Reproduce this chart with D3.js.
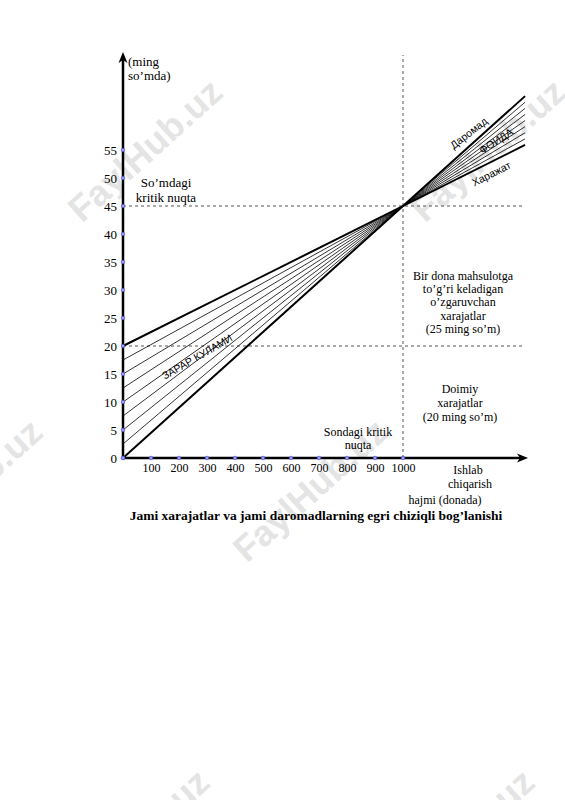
<!DOCTYPE html>
<html><head><meta charset="utf-8">
<script src="https://cdn.jsdelivr.net/npm/d3@7"></script>
<style>body{margin:0;background:#fff}svg{display:block}</style>
</head><body>
<svg id="c" width="565" height="800"></svg>
<script>
// ---- data ----
const xTicks = [100,200,300,400,500,600,700,800,900,1000];
const yTicks = [0,5,10,15,20,25,30,35,40,45,50,55];
const intercepts = [0,2.5,5,7.5,10,12.5,15,17.5,20];   // lines from revenue (0) to total cost (20)
const fixedCost = 20;            // ming so'm
const breakEvenQty = 1000;       // donada
const breakEvenSum = 45;         // ming so'm
const qtyMax = 1436;             // end of drawn lines
const yAxisUnit = ["(ming", "so’mda)"];
const xAxisUnit = ["Ishlab", "chiqarish", "hajmi (donada)"];
const title = "Jami xarajatlar va jami daromadlarning egri chiziqli bog’lanishi";

const svg = d3.select("#c");
const x = d3.scaleLinear().domain([0,1000]).range([123,403]);
const y = d3.scaleLinear().domain([0,55]).range([458,150]);
const serif = "'Liberation Serif','Times New Roman',serif";
const sans = "'Liberation Sans',Arial,sans-serif";

// ---- watermarks ----
const wm = [[145,150],[488,150],[310,490],[-35,490],[132,840],[457,840]];
const wmG = svg.append("g");
wm.forEach(([cx,cy])=>{
  wmG.append("text").attr("transform",`translate(${cx},${cy}) rotate(-42)`)
    .attr("text-anchor","middle").attr("dy","0.35em")
    .attr("font-family",sans).attr("font-weight","bold").attr("font-size",36)
    .attr("fill","#e4e4e4").text("FaylHub.uz");
});

// ---- dashed guide lines ----
const dash = "3,3";
svg.append("line").attr("x1",x(0)).attr("x2",x(qtyMax)).attr("y1",y(breakEvenSum)).attr("y2",y(breakEvenSum))
  .attr("stroke","#555").attr("stroke-width",1).attr("stroke-dasharray",dash);
svg.append("line").attr("x1",x(0)).attr("x2",x(qtyMax)).attr("y1",y(fixedCost)).attr("y2",y(fixedCost))
  .attr("stroke","#555").attr("stroke-width",1).attr("stroke-dasharray",dash);
svg.append("line").attr("x1",x(breakEvenQty)).attr("x2",x(breakEvenQty)).attr("y1",y(0)).attr("y2",55)
  .attr("stroke","#555").attr("stroke-width",1).attr("stroke-dasharray",dash);

// ---- fan of lines ----
intercepts.forEach(k=>{
  const slope = (breakEvenSum-k)/breakEvenQty;
  const thick = (k===0 || k===fixedCost);
  svg.append("line")
    .attr("x1",x(0)).attr("y1",y(k))
    .attr("x2",x(qtyMax)).attr("y2",y(k+slope*qtyMax))
    .attr("stroke","#000").attr("stroke-width",thick?2:0.8);
});

// ---- axes ----
svg.append("line").attr("x1",x(0)).attr("x2",x(0)).attr("y1",y(0)+1).attr("y2",60)
  .attr("stroke","#000").attr("stroke-width",2.5);
svg.append("path").attr("d",`M${x(0)},52 L${x(0)-4.5},63 L${x(0)},60 L${x(0)+4.5},63 Z`).attr("fill","#000");
svg.append("line").attr("x1",x(0)-1).attr("x2",520).attr("y1",y(0)).attr("y2",y(0))
  .attr("stroke","#000").attr("stroke-width",2.5);
svg.append("path").attr("d",`M528,${y(0)} L517,${y(0)-4.5} L520,${y(0)} L517,${y(0)+4.5} Z`).attr("fill","#000");

const ya = svg.append("g").attr("transform",`translate(${x(0)-5},0)`)
  .call(d3.axisLeft(y).tickValues(yTicks).tickFormat(d3.format("d")).tickSize(0).tickPadding(1));
ya.select(".domain").remove();
ya.selectAll("text").attr("font-family",serif).attr("font-size",13).attr("fill","#000");

const xa = svg.append("g").attr("transform",`translate(0,${y(0)+3})`)
  .call(d3.axisBottom(x).tickValues(xTicks).tickFormat(d3.format("d")).tickSize(0).tickPadding(2));
xa.select(".domain").remove();
xa.selectAll("text").attr("font-family",serif).attr("font-size",12).attr("fill","#000");

// tick dots
svg.selectAll(".yd").data(yTicks).join("circle").attr("cx",x(0)).attr("cy",d=>y(d)).attr("r",1.8)
  .attr("fill","#9a9aff").attr("stroke","#4a4ad0").attr("stroke-width",0.6);
svg.selectAll(".xd").data([0].concat(xTicks)).join("circle").attr("cx",d=>x(d)).attr("cy",y(0)).attr("r",1.8)
  .attr("fill","#9a9aff").attr("stroke","#4a4ad0").attr("stroke-width",0.6);

// ---- text helpers ----
function lines(arr, cx, y0, dy, anchor, size){
  arr.forEach((t,i)=>svg.append("text").attr("x",cx).attr("y",y0+i*dy)
    .attr("text-anchor",anchor||"middle").attr("font-family",serif).attr("font-size",size||13)
    .attr("fill","#000").text(t));
}
lines(yAxisUnit, 128, 66, 14, "start", 13);
lines(["So’mdagi","kritik nuqta"], 166, 187, 15, "middle", 13);
lines(["Bir dona mahsulotga","to’g’ri keladigan","o’zgaruvchan","xarajatlar","(25 ming so’m)"], 463, 280, 13.2, "middle", 12);
lines(["Doimiy","xarajatlar","(20 ming so’m)"], 460, 393, 14, "middle", 12);
lines(["Sondagi kritik","nuqta"], 358, 436, 13, "middle", 12);
lines([xAxisUnit[0]], 468, 474, 0, "middle", 12);
lines([xAxisUnit[1]], 470, 488, 0, "middle", 12);
lines([xAxisUnit[2]], 445, 504, 0, "middle", 12);

svg.append("text").attr("x",316).attr("y",520).attr("text-anchor","middle")
  .attr("font-family",serif).attr("font-weight","bold").attr("font-size",13.5).attr("fill","#000").text(title);

// ---- rotated labels along lines ----
function rlabel(t, px, py, ang, size){
  svg.append("text").attr("transform",`translate(${px},${py}) rotate(${ang})`)
    .attr("text-anchor","middle").attr("font-family",sans).attr("font-size",size).attr("fill","#000").text(t);
}
rlabel("ЗАРАР КУЛАМИ", 199, 360, -30, 10.5);
rlabel("Даромад", 471, 136, -38, 10.5);
rlabel("ФОИДА", 498, 144, -33, 10.5);
rlabel("Харажат", 493, 177, -27, 10.5);
</script>
</body></html>
